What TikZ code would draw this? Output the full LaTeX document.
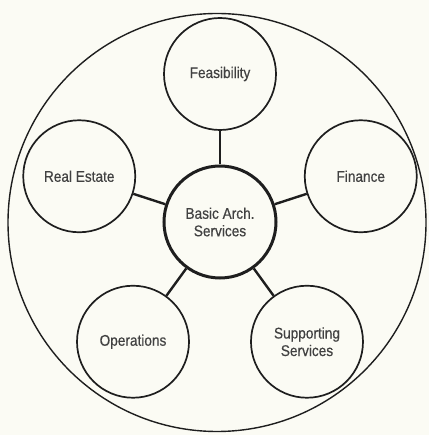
\documentclass[tikz,border=0pt]{standalone}
\usepackage{fontspec}
\setmainfont{Liberation Sans}[FakeStretch=0.88, FakeBold=0.4]
\usepackage{tikz}
\usetikzlibrary{arrows.meta,calc}

\definecolor{paper}{RGB}{251,251,244}
\definecolor{ink}{RGB}{30,30,30}
\definecolor{label}{RGB}{65,65,65}

\tikzset{
    area/.style={circle, draw=ink, line width=1.7pt, minimum size=112pt, inner sep=0pt,
        align=center, text=label, font=\fontsize{15.5}{17.5}\selectfont},
    core/.style={area, line width=3pt},
    link/.style={draw=ink, line width=2.4pt}
}

\begin{document}
\begin{tikzpicture}[x=1pt, y=1pt]
    % Paper
    \fill[paper] (-220, -213) rectangle (209, 222);
    \useasboundingbox (-220, -213) rectangle (209, 222);

    % Outer ring
    \draw[ink, line width=1.4pt] (-3, -0.5) circle (209);

    % Centre
    \node[core] (basic) at (0, 0) {Basic Arch.\\Services};

    % Surrounding areas
    \node[area] (feas) at (90:148) {Feasibility};
    \node[area] (fin) at (18:148) {Finance};
    \node[area] (supp) at (-54:148) {Supporting\\Services};
    \node[area] (oper) at (-126:148) {Operations};
    \node[area] (real) at (162:148) {Real Estate};

    % Links
    \draw[link] (basic) -- (feas);
    \draw[link] (basic) -- (fin);
    \draw[link] (basic) -- (supp);
    \draw[link] (basic) -- (oper);
    \draw[link] (basic) -- (real);
\end{tikzpicture}
\end{document}
